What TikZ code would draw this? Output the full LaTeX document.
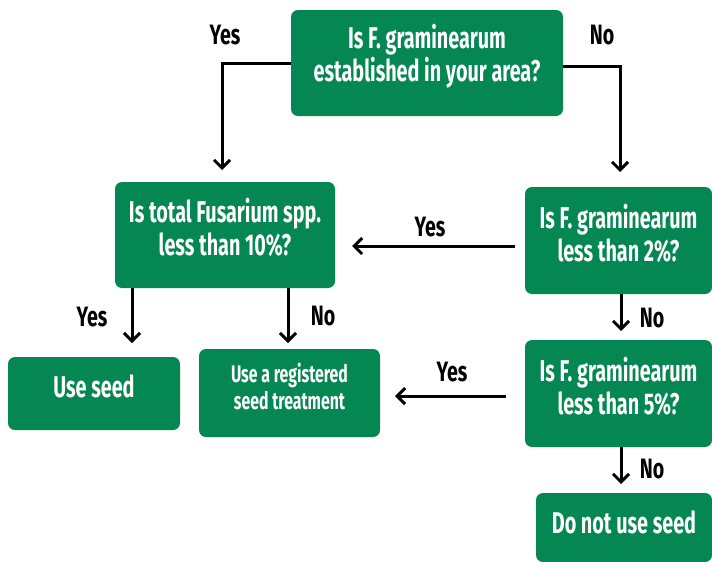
\documentclass[tikz,border=0pt]{standalone}
\usepackage{fontspec}
\newfontfamily\cond[FakeStretch=0.66]{Fira Sans}
\newfontfamily\condl[FakeStretch=0.70]{Fira Sans}
\usetikzlibrary{arrows.meta}
\definecolor{fgreen}{RGB}{4,135,82}
\begin{document}
\begin{tikzpicture}[x=1pt,y=-1pt,
  box/.style={fill=fgreen, rounded corners=7pt, inner sep=0pt},
  boxtext/.style={text=white, align=center, font=\cond\bfseries\fontsize{30}{33}\selectfont, inner sep=0pt},
  smalltext/.style={text=white, align=center, font=\cond\bfseries\fontsize{24}{27}\selectfont, inner sep=0pt},
  lbl/.style={font=\condl\bfseries\fontsize{28}{30}\selectfont, inner sep=0pt},
  arr/.style={line width=3pt, -{Straight Barb[length=8pt,width=16pt,line width=3pt]}}
]
\useasboundingbox (0,0) rectangle (712,562);
% boxes
\node[box, minimum width=272pt, minimum height=106pt] (q1) at (427,63) {};
\node[box, minimum width=220pt, minimum height=106pt] (q2) at (225,235) {};
\node[box, minimum width=187pt, minimum height=107pt] (q3) at (618.5,240.5) {};
\node[box, minimum width=187pt, minimum height=107pt] (q4) at (618.5,393.5) {};
\node[box, minimum width=172pt, minimum height=73pt] (us) at (94,393.5) {};
\node[box, minimum width=181pt, minimum height=88pt] (rt) at (289.5,393) {};
\node[box, minimum width=176pt, minimum height=69pt] (dn) at (624,527.5) {};
% box texts
\node[boxtext] (q1t) at (427,56) {Is F. graminearum\\established in your area?};
\node[boxtext] (q2t) at (225,227) {Is total Fusarium spp.\\less than 10\%?};
\node[boxtext] (q3t) at (618.5,233) {Is F. graminearum\\less than 2\%?};
\node[boxtext] (q4t) at (618.5,386) {Is F. graminearum\\less than 5\%?};
\node[boxtext] (ust) at (94,386) {Use seed};
\node[smalltext] (rtt) at (289.5,386) {Use a registered\\seed treatment};
\node[boxtext] (dnt) at (624,522) {Do not use seed};
% coordinates
\coordinate (c1) at (222,170);
\coordinate (c2) at (620,172);
\coordinate (c3) at (515,246);
\coordinate (c4) at (352,246);
\coordinate (c5) at (132,343);
\coordinate (c6) at (288,343);
\coordinate (c7) at (621,331);
\coordinate (c8) at (506,396);
\coordinate (c9) at (395,396);
\coordinate (c10) at (621,484);
% connectors
\draw[arr] (q1.west) -| (c1);
\draw[arr] ([yshift=-3pt]q1.east) -| (c2);
\draw[arr] (c3) -- (c4);
\draw[arr] (q2.south -| c5) -- (c5);
\draw[arr] (q2.south -| c6) -- (c6);
\draw[arr] (q3.south -| c7) -- (c7);
\draw[arr] (c8) -- (c9);
\draw[arr] (q4.south -| c10) -- (c10);
% labels
\node[lbl] (l1) at (225,35) {Yes};
\node[lbl] (l2) at (602,35) {No};
\node[lbl] (l3) at (430,227) {Yes};
\node[lbl] (l4) at (92,317) {Yes};
\node[lbl] (l5) at (323,316) {No};
\node[lbl] (l6) at (652,318) {No};
\node[lbl] (l7) at (452,372) {Yes};
\node[lbl] (l8) at (652,469) {No};
\end{tikzpicture}
\end{document}
